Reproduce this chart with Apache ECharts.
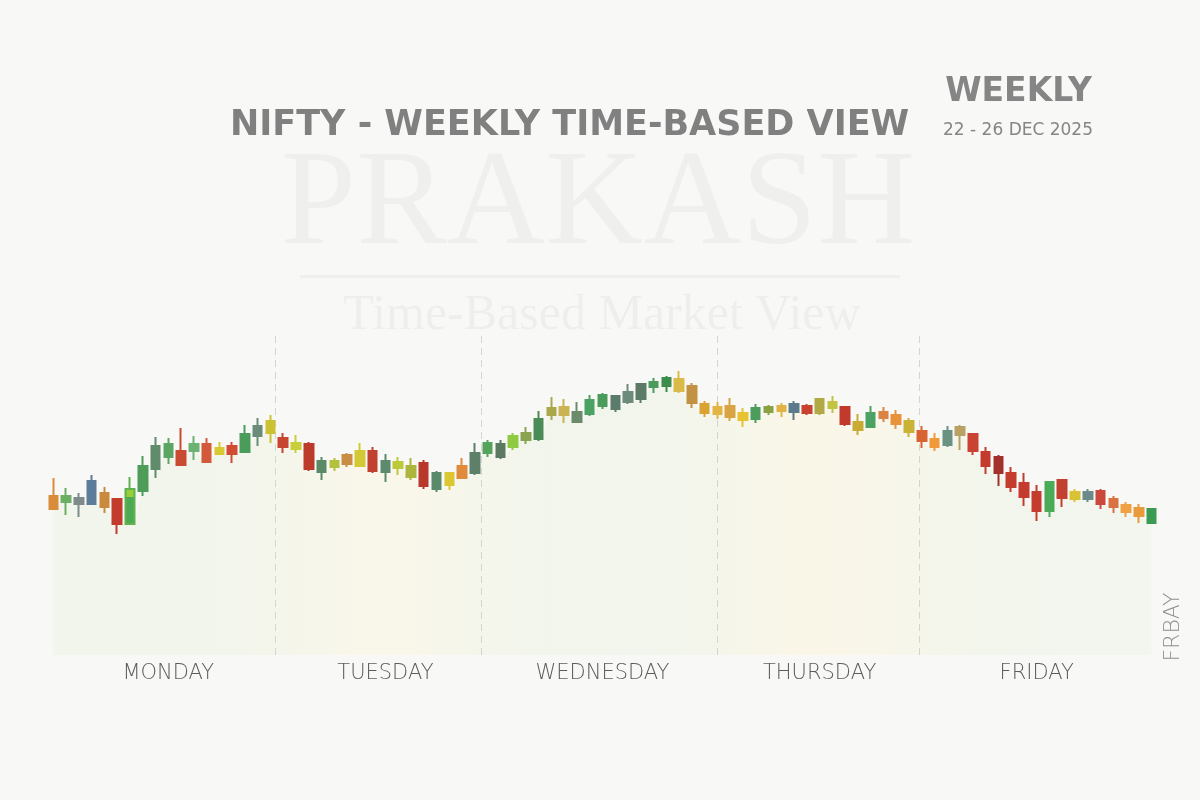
<!DOCTYPE html>
<html>
<head>
<meta charset="utf-8">
<style>
html,body{margin:0;padding:0;background:#f8f8f6;}
#chart{width:1200px;height:800px;}
</style>
<script src="https://cdn.jsdelivr.net/npm/echarts@6/dist/echarts.min.js"></script>
</head>
<body>
<div id="chart"></div>
<script>
// ---- data ----
const days = ['MONDAY', 'TUESDAY', 'WEDNESDAY', 'THURSDAY', 'FRIDAY'];
const candlesPerDay = [18, 16, 19, 15, 19];
const dividerAt = [17.4, 33.5, 52.0, 67.8];

const opens = [
  25959,25953,25951,25951,25962,25956,25931,25964,25986,25998,26004,26004,26011,26001,26009,26003,26019,26022,
  26017,26012,26011,25983,25988,26000,25989,26004,25983,25987,25989,25992,25966,25970,25977,25982,
  26002,25998,26008,26015,26016,26040,26048,26033,26041,26049,26046,26053,26056,26068,26069,26076,26069,26051,26048,
  26049,26042,26036,26043,26049,26043,26049,26042,26047,26048,26033,26028,26043,26040,26034,
  26024,26016,26010,26028,26021,26003,25998,25982,25972,25963,25944,25975,25956,25956,25964,25956,25950,25947,25932
];
const closes = [
  25946,25959,25957,25974,25948,25931,25966,25989,26009,26011,25990,26011,25993,26007,26001,26021,26029,26034,
  26008,26006,25986,25994,25994,25991,26004,25984,25994,25993,25978,25969,25982,25982,25989,26002,
  26012,26011,26019,26022,26036,26047,26040,26043,26055,26060,26059,26063,26071,26073,26077,26064,26052,26042,26041,
  26038,26035,26047,26048,26044,26051,26042,26056,26053,26031,26025,26042,26037,26031,26023,
  26014,26008,26024,26020,26004,25989,25982,25968,25958,25944,25973,25957,25963,25963,25951,25948,25943,25939,25946
];
const lows = [
  25945,25940,25938,25951,25942,25921,25931,25959,25977,25991,25989,25995,25992,26000,25992,26002,26009,26012,
  26002,26002,25984,25975,25984,25988,25988,25982,25973,25980,25975,25966,25963,25965,25976,25980,
  25998,25996,26005,26011,26014,26035,26032,26032,26039,26046,26043,26051,26052,26062,26063,26062,26047,26038,26036,
  26034,26028,26032,26040,26038,26035,26040,26040,26042,26029,26020,26027,26033,26026,26018,
  26007,26004,26008,26005,26000,25981,25969,25963,25949,25934,25938,25948,25953,25953,25946,25942,25938,25932,25932
];
const highs = [
  25977,25967,25962,25980,25968,25957,25978,25999,26018,26017,26027,26019,26017,26013,26013,26030,26037,26040,
  26022,26020,26013,25998,25997,26002,26012,26008,26001,25998,25997,25995,25984,25983,25997,26012,
  26015,26015,26022,26028,26044,26058,26056,26053,26060,26062,26060,26071,26072,26077,26079,26084,26072,26054,26053,
  26057,26047,26051,26050,26052,26054,26051,26057,26059,26048,26041,26049,26048,26045,26037,
  26029,26022,26029,26030,26021,26008,26000,25988,25982,25970,25974,25976,25966,25966,25966,25959,25953,25951,25946
];

// ---- styles (per-candle colours) ----
const candleColors = [
  '#d98c3c','#6bb062','#7d8c8a','#5c7c9a','#c98a3e','#c23b2c','LIMEGREEN','#4d9c58','#618c6c','#5ca562','#c94b31','#6cb274','#d25a3a','#d9c932','#d14c32','#4b9b5b','#6b8b7b','#cbc233',
  '#c8452f','#c9cf3a','#bd3b2b','#5b8a66','#b2c23c','#c98d44','#d3c934','#c2402f','#5d8a6c','#bcc93a','#adb53c','#b8392b','#5a8a6a','#dcc733','#e08a3c','#5e8068',
  '#56a45c','#5c7a62','#8fcb42','#8aa351','#4a8b56','#a9a84a','#cbb252','#6b8b6b','#4ba262','#4b9b5b','#5b7b6b','#6c8b7b','#5b7b66','#4b9b5b','#3c8c4c','#dabb4a','#c29242','#d9a232','#e2b543',
  '#d9a443','#e8c233','#4c9c5c','#8ba243','#e1b344','#5b7b8b','#c9412f','#b1a944','#c2c443','#c13a2c','#c9aa33','#4ca262','#d98344','#e9923c','#c9b234',
  '#d96233','#f09a3a','#6b9181','#b9a163','#c94232','#c23b2c','#a2312b','#c43c2d','#c43c2d','#c43c2d','#4bab57','#c2402f','#d9c233','#6b8b8b','#c9493a','#d97242','#f0a242','#e99a3a','#3c9b52'
];

// ---- build ----
const categories = [];
const dayOfIndex = [];
const midIndex = new Set();
let start = 0;
days.forEach((d, di) => {
  for (let k = 0; k < candlesPerDay[di]; k++) {
    categories.push(d.slice(0, 3) + ' ' + (k + 1));
    dayOfIndex.push(d);
  }
  midIndex.add(start + Math.floor(candlesPerDay[di] / 2));
  start += candlesPerDay[di];
});

const candleData = opens.map((o, i) => {
  let c = candleColors[i];
  let wick = c;
  if (c === 'LIMEGREEN') {
    c = new echarts.graphic.LinearGradient(0, 0, 0, 1, [
      {offset: 0, color: '#9acd3c'}, {offset: 0.42, color: '#9acd3c'},
      {offset: 0.43, color: '#4caa52'}, {offset: 1, color: '#4caa52'}
    ]);
    wick = '#5fb24e';
  }
  return {
    value: [o, closes[i], lows[i], highs[i]],
    itemStyle: {color: c, color0: c, borderColor: wick, borderColor0: wick, borderWidth: 2}
  };
});
const bodyBottom = opens.map((o, i) => Math.min(o, closes[i]));

const chart = echarts.init(document.getElementById('chart'), null, {renderer: 'canvas'});
const option = {
  backgroundColor: '#f8f8f6',
  animation: false,
  grid: {left: 47, right: 42, top: 335, bottom: 145},
  xAxis: [
    {
      type: 'category', data: categories, boundaryGap: true,
      axisLine: {show: false}, axisTick: {show: false}, splitLine: {show: false},
      axisLabel: {
        interval: (i) => midIndex.has(i),
        formatter: (v, i) => dayOfIndex[i],
        margin: 8, fontFamily: 'DejaVu Sans', fontWeight: 200, fontSize: 21, color: '#5c5c5c'
      }
    },
    {type: 'value', min: -0.5, max: 86.5, show: false}
  ],
  yAxis: {type: 'value', min: 25800, max: 26120, show: false, splitLine: {show: false}},
  graphic: [
    {type: 'text', z: 0, style: {x: 598, y: 207, text: 'PRAKASH', font: '136px "Liberation Serif"', fill: 'rgba(0,0,0,0.035)', textAlign: 'center', textVerticalAlign: 'middle'}},
    {type: 'rect', z: 0, shape: {x: 300, y: 275, width: 600, height: 3}, style: {fill: 'rgba(0,0,0,0.035)'}},
    {type: 'text', z: 0, style: {x: 602, y: 316, text: 'Time-Based Market View', font: '50px "Liberation Serif"', fill: 'rgba(0,0,0,0.04)', textAlign: 'center', textVerticalAlign: 'middle'}},
    {type: 'text', z: 10, style: {x: 230, y: 126, text: 'NIFTY - WEEKLY TIME-BASED VIEW', font: 'bold 35px "DejaVu Sans"', fill: '#808080', textAlign: 'left', textVerticalAlign: 'middle'}},
    {type: 'text', z: 10, style: {x: 1092, y: 92, text: 'WEEKLY', font: 'bold 33px "DejaVu Sans"', fill: '#858585', textAlign: 'right', textVerticalAlign: 'middle'}},
    {type: 'text', z: 10, style: {x: 1093, y: 131, text: '22 - 26 DEC 2025', font: '17px "DejaVu Sans"', fill: '#858585', textAlign: 'right', textVerticalAlign: 'middle'}},
    {type: 'text', z: 10, rotation: Math.PI / 2, x: 1173, y: 627, style: {x: 0, y: 0, text: 'FRBAY', font: '200 22px "DejaVu Sans"', fill: '#8e8e8e', textAlign: 'center', textVerticalAlign: 'middle'}}
  ],
  series: [
    {
      type: 'line', data: bodyBottom, smooth: 0.5, symbol: 'none', silent: true, z: 1,
      lineStyle: {width: 0, opacity: 0},
      areaStyle: {
        origin: 'start',
        color: new echarts.graphic.LinearGradient(0, 0, 1, 0, [
          {offset: 0, color: 'rgba(226,238,212,0.42)'},
          {offset: 0.15, color: 'rgba(226,238,212,0.42)'},
          {offset: 0.27, color: 'rgba(250,244,212,0.5)'},
          {offset: 0.33, color: 'rgba(250,244,212,0.5)'},
          {offset: 0.45, color: 'rgba(226,238,212,0.42)'},
          {offset: 0.55, color: 'rgba(226,238,212,0.4)'},
          {offset: 0.67, color: 'rgba(252,244,210,0.55)'},
          {offset: 0.74, color: 'rgba(252,244,210,0.5)'},
          {offset: 0.86, color: 'rgba(226,238,212,0.42)'},
          {offset: 1, color: 'rgba(230,240,220,0.4)'}
        ])
      }
    },
    {
      type: 'line', xAxisIndex: 1, data: dividerAt.map(v => [v, null]), symbol: 'none', silent: true, z: 2,
      lineStyle: {width: 0},
      markLine: {
        silent: true, symbol: ['none', 'none'], label: {show: false},
        lineStyle: {color: '#d4d4d4', type: [7, 5], width: 1},
        data: dividerAt.map(v => ({xAxis: v}))
      }
    },
    {
      type: 'candlestick', data: candleData, barWidth: 9, z: 5
    }
  ]
};
chart.setOption(option);
</script>
</body>
</html>
